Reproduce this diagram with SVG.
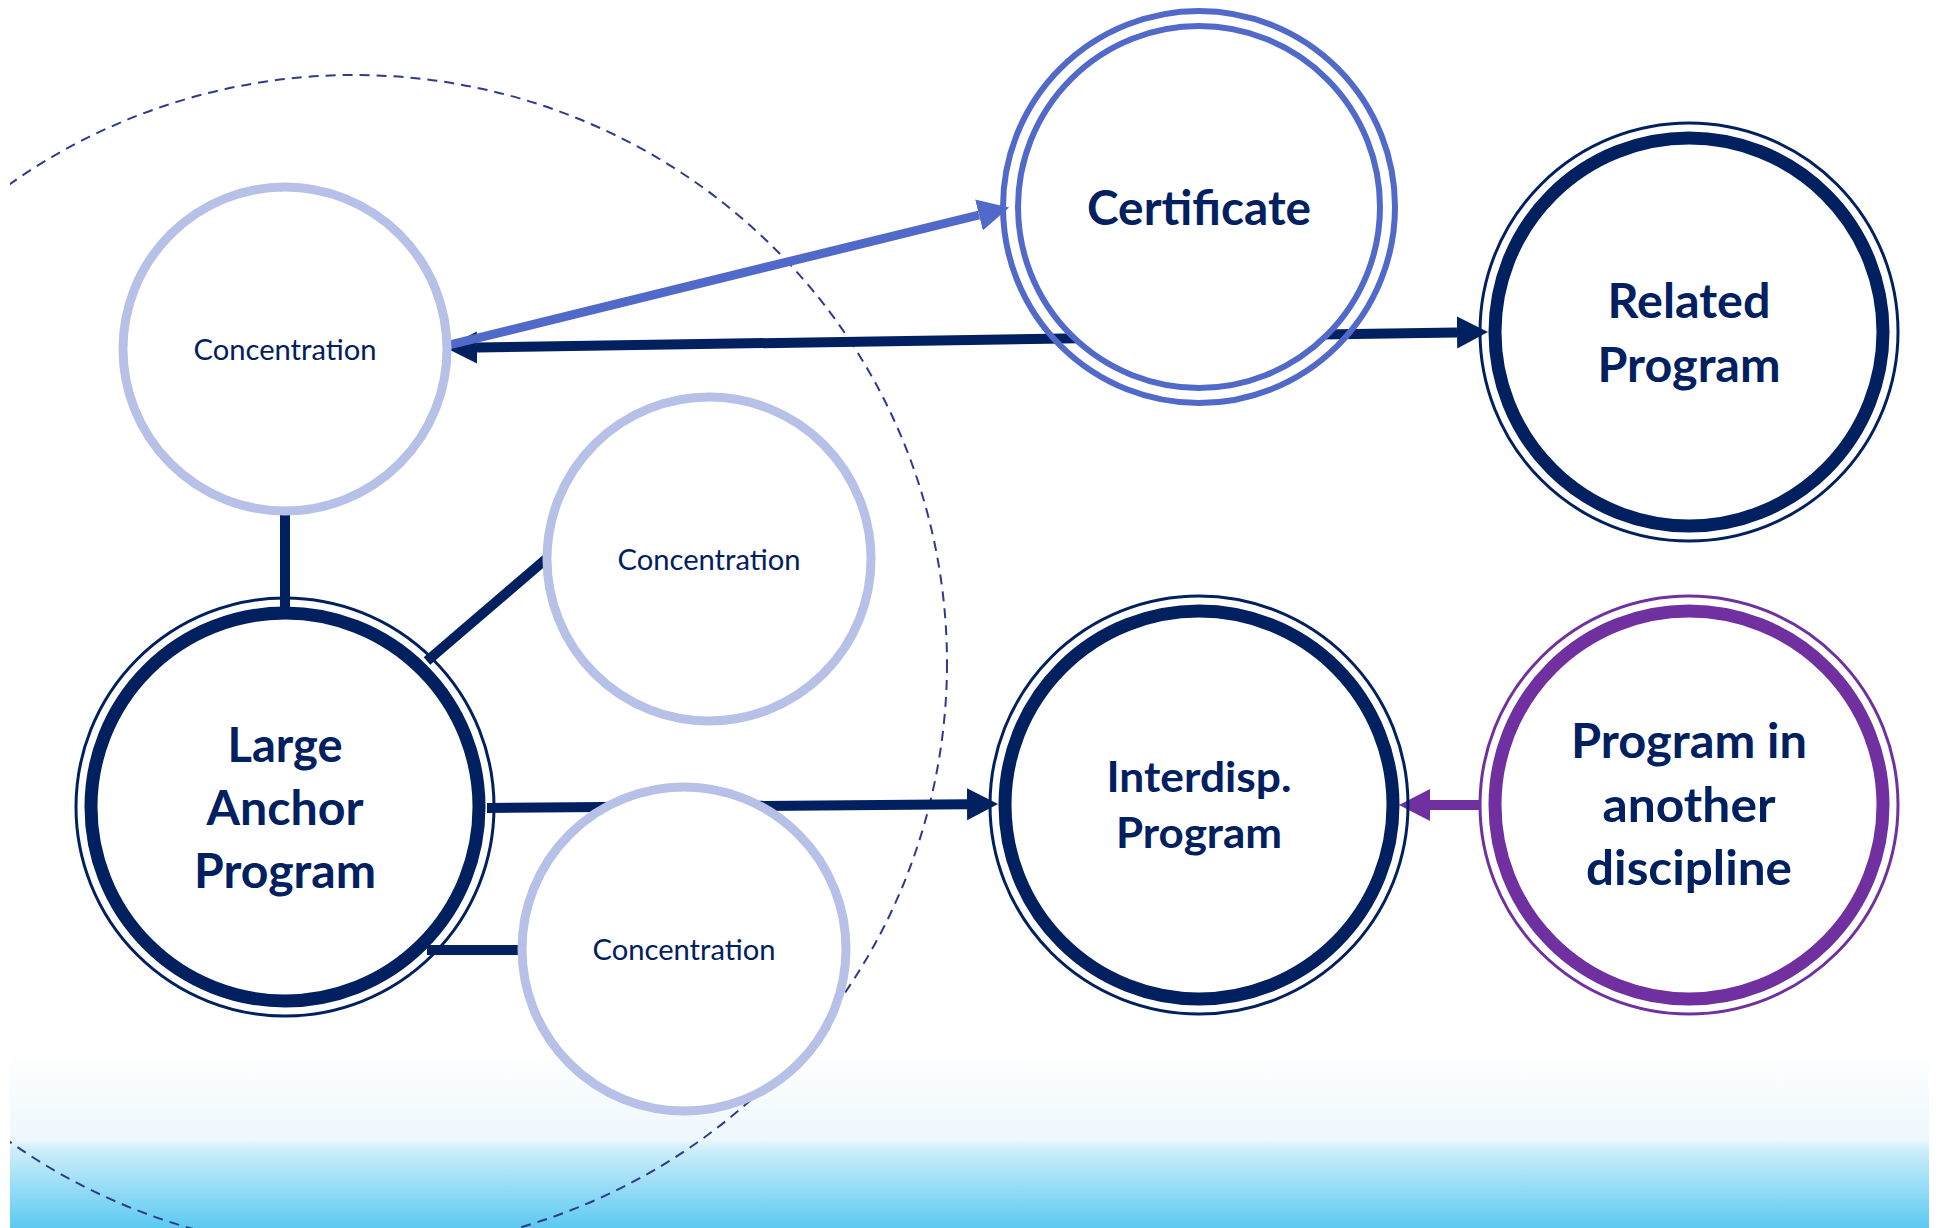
<svg xmlns="http://www.w3.org/2000/svg" width="1939" height="1228" viewBox="0 0 1939 1228">
<style>
.conc{fill:#fff;stroke:#B7C1E7;stroke-width:9}
.thin{fill:none;stroke:#002060;stroke-width:3}
.thick{fill:#fff;stroke:#002060;stroke-width:13}
.pthin{fill:none;stroke:#7030A0;stroke-width:3}
.pthick{fill:#fff;stroke:#7030A0;stroke-width:13}
.cert{stroke:#5169C9;stroke-width:6}
.lbl{font-family:Lato,"Open Sans","Liberation Sans",sans-serif;font-weight:bold;font-size:47px;fill:#002060;text-anchor:middle}
.small{font-family:Lato,"Open Sans","Liberation Sans",sans-serif;font-size:28px;fill:#002060;text-anchor:middle}
.navy{stroke:#002060;stroke-width:10;fill:none}
</style>
<defs>
<linearGradient id="bg" x1="0" y1="0" x2="0" y2="1">
<stop offset="0" stop-color="#FFFFFF"/>
<stop offset="0.5" stop-color="#EEF8FC"/>
<stop offset="0.56" stop-color="#CDEEFA"/>
<stop offset="1" stop-color="#5CC9F1"/>
</linearGradient>
<clipPath id="clip"><rect x="10" y="0" width="1919" height="1228"/></clipPath>
<marker id="ahNavy" markerUnits="userSpaceOnUse" markerWidth="32" markerHeight="34" refX="0" refY="16" orient="auto-start-reverse" viewBox="0 0 32 32"><path d="M0,0 L31,16 L0,32 z" fill="#002060"/></marker>
<marker id="ahBlue" markerUnits="userSpaceOnUse" markerWidth="32" markerHeight="34" refX="0" refY="16" orient="auto" viewBox="0 0 32 32"><path d="M0,0 L31,16 L0,32 z" fill="#5169C9"/></marker>
<marker id="ahPurple" markerUnits="userSpaceOnUse" markerWidth="32" markerHeight="34" refX="0" refY="16" orient="auto" viewBox="0 0 32 32"><path d="M0,0 L31,16 L0,32 z" fill="#7030A0"/></marker>
</defs>
<rect x="0" y="0" width="1939" height="1228" fill="#fff"/>
<rect x="10" y="1050" width="1919" height="178" fill="url(#bg)"/>
<g clip-path="url(#clip)">
<ellipse cx="354" cy="663" rx="593" ry="588" fill="none" stroke="#2E3A8C" stroke-width="2" stroke-dasharray="10 7"/>
</g>
<g id="connectors">
<line x1="285" y1="515" x2="285" y2="607" class="navy"/>
<line x1="427" y1="661" x2="546" y2="559" class="navy" stroke-width="9"/>
<line x1="427" y1="950" x2="522" y2="950" class="navy"/>
<line x1="487" y1="808" x2="967" y2="804.3" class="navy" marker-end="url(#ahNavy)"/>
<line x1="477" y1="347.5" x2="1457" y2="332.5" class="navy" marker-start="url(#ahNavy)" marker-end="url(#ahNavy)"/>
<line x1="449" y1="345" x2="979" y2="215" stroke="#5169C9" stroke-width="9" marker-end="url(#ahBlue)"/>
<line x1="1480" y1="805" x2="1430" y2="805" stroke="#7030A0" stroke-width="10" marker-end="url(#ahPurple)"/>
</g>
<g id="conc1">
<circle cx="285" cy="349" r="162" class="conc"/>
<text x="285" y="359.5" class="small" textLength="183" lengthAdjust="spacingAndGlyphs">Concentration</text>
</g>
<g id="conc2">
<circle cx="709" cy="559" r="162" class="conc"/>
<text x="709" y="570" class="small" textLength="183" lengthAdjust="spacingAndGlyphs">Concentration</text>
</g>
<g id="conc3">
<circle cx="684" cy="949" r="162" class="conc"/>
<text x="684" y="960" class="small" textLength="183" lengthAdjust="spacingAndGlyphs">Concentration</text>
</g>
<g id="anchor">
<circle cx="285" cy="807" r="209" class="thin"/>
<circle cx="285" cy="807" r="194" class="thick"/>
<text x="285" y="762" class="lbl" textLength="115" lengthAdjust="spacingAndGlyphs">Large</text>
<text x="285" y="825" class="lbl" textLength="157" lengthAdjust="spacingAndGlyphs">Anchor</text>
<text x="285" y="888" class="lbl" textLength="182" lengthAdjust="spacingAndGlyphs">Program</text>
</g>
<g id="certificate">
<circle cx="1199" cy="207" r="196" class="cert" fill="none"/>
<circle cx="1199" cy="207" r="181" class="cert" fill="#fff"/>
<text x="1199" y="225" class="lbl" textLength="224" lengthAdjust="spacingAndGlyphs">Certificate</text>
</g>
<g id="related">
<circle cx="1689" cy="332" r="209" class="thin"/>
<circle cx="1689" cy="332" r="194" class="thick"/>
<text x="1689" y="318" class="lbl" textLength="163" lengthAdjust="spacingAndGlyphs">Related</text>
<text x="1689" y="382" class="lbl" textLength="183" lengthAdjust="spacingAndGlyphs">Program</text>
</g>
<g id="interdisp">
<circle cx="1199" cy="805" r="209" class="thin"/>
<circle cx="1199" cy="805" r="194" class="thick"/>
<text x="1199" y="792" class="lbl" style="font-size:42px" textLength="185" lengthAdjust="spacingAndGlyphs">Interdisp.</text>
<text x="1199" y="848" class="lbl" style="font-size:42px" textLength="166" lengthAdjust="spacingAndGlyphs">Program</text>
</g>
<g id="other">
<circle cx="1689" cy="805" r="209" class="pthin"/>
<circle cx="1689" cy="805" r="194" class="pthick"/>
<text x="1689" y="758" class="lbl" textLength="236" lengthAdjust="spacingAndGlyphs">Program in</text>
<text x="1689" y="822" class="lbl" textLength="173" lengthAdjust="spacingAndGlyphs">another</text>
<text x="1689" y="885" class="lbl" textLength="206" lengthAdjust="spacingAndGlyphs">discipline</text>
</g>
</svg>
